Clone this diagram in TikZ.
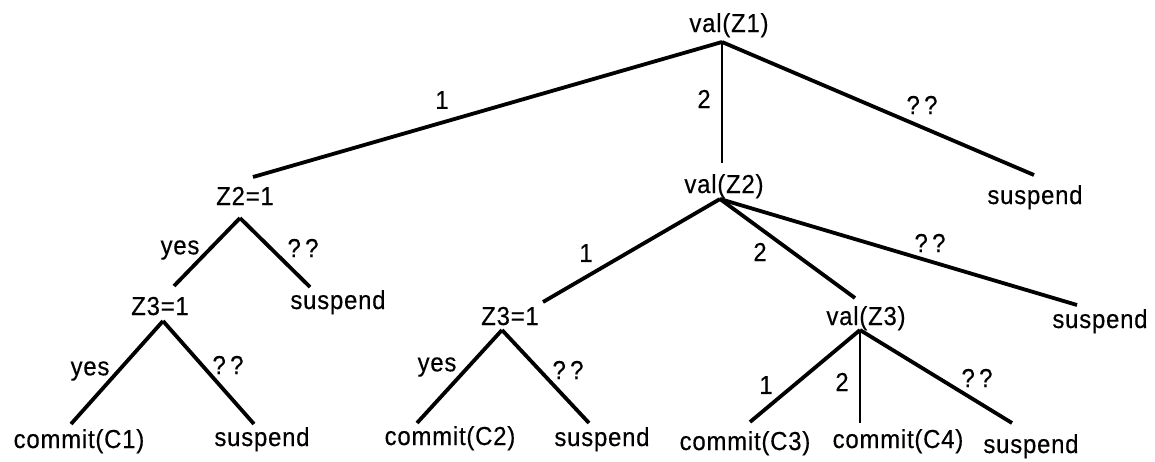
\documentclass[tikz,border=0pt]{standalone}
\usepackage{fontspec}
\setmainfont[LetterSpace=3,FakeStretch=0.92,FakeBold=0.4]{Liberation Sans}
\begin{document}
\begin{tikzpicture}[x=1pt,y=-1pt,
  lbl/.style={font=\fontsize{26}{29}\selectfont, inner sep=0pt, anchor=base},
  tag/.style={font=\fontsize{26}{29}\selectfont, inner sep=0pt},
  edge/.style={line width=3.8pt},
  thinedge/.style={line width=1.8pt}]
\useasboundingbox (0,0) rectangle (1155,461);

% tree nodes (placed on their baselines)
\node[lbl] (z1)  at (729,32)  {val(Z1)};
\node[lbl] (z2)  at (245,205) {Z2=1};
\node[lbl] (v2)  at (724,193) {val(Z2)};
\node[lbl] (s1)  at (1035,204) {suspend};
\node[lbl] (z3a) at (160,315) {Z3=1};
\node[lbl] (s2)  at (338,309) {suspend};
\node[lbl] (z3b) at (510,325) {Z3=1};
\node[lbl] (v3)  at (866,325) {val(Z3)};
\node[lbl] (s3)  at (1100,328) {suspend};
\node[lbl] (c1)  at (79,448)  {commit(C1)};
\node[lbl] (s4)  at (262,446) {suspend};
\node[lbl] (c2)  at (450,445) {commit(C2)};
\node[lbl] (s5)  at (602,446) {suspend};
\node[lbl] (c3)  at (745,450) {commit(C3)};
\node[lbl] (c4)  at (898,448) {commit(C4)};
\node[lbl] (s6)  at (1031,453) {suspend};

% branches of val(Z1)
\draw[edge]     ([shift={(-7,10)}]z1.base) -- ([shift={(8,-28)}]z2.base);
\draw[thinedge] ([shift={(-7,10)}]z1.base) -- ([shift={(-2,-30)}]v2.base);
\draw[edge]     ([shift={(-7,10)}]z1.base) -- ([shift={(-1,-29)}]s1.base);
% branches of Z2=1
\draw[edge] ([shift={(-5,13)}]z2.base) -- ([shift={(14,-29)}]z3a.base);
\draw[edge] ([shift={(-5,13)}]z2.base) -- ([shift={(-28,-22)}]s2.base);
% branches of the left Z3=1
\draw[edge] ([shift={(3,6)}]z3a.base) -- ([shift={(-8,-24)}]c1.base);
\draw[edge] ([shift={(3,6)}]z3a.base) -- ([shift={(-8,-22)}]s4.base);
% branches of val(Z2)
\draw[edge] ([shift={(-4,6)}]v2.base) -- ([shift={(33,-23)}]z3b.base);
\draw[edge] ([shift={(-4,6)}]v2.base) -- ([shift={(-11,-27)}]v3.base);
\draw[edge] ([shift={(-4,6)}]v2.base) -- ([shift={(-23,-23)}]s3.base);
% branches of the middle Z3=1
\draw[edge] ([shift={(-8,5)}]z3b.base) -- ([shift={(-33,-22)}]c2.base);
\draw[edge] ([shift={(-8,5)}]z3b.base) -- ([shift={(-13,-23)}]s5.base);
% branches of val(Z3)
\draw[edge]     ([shift={(-6,5)}]v3.base) -- ([shift={(5,-28)}]c3.base);
\draw[thinedge] ([shift={(-6,5)}]v3.base) -- ([shift={(-38,-25)}]c4.base);
\draw[edge]     ([shift={(-6,5)}]v3.base) -- ([shift={(-19,-30)}]s6.base);

% branch labels
\node[tag] (l1)  at (442,100) {1};
\node[tag] (l2)  at (704,99)  {2};
\node[tag] (l3)  at (922,105) {?\,?};
\node[tag] (l4)  at (180,250) {yes};
\node[tag] (l5)  at (303,248) {?\,?};
\node[tag] (l6)  at (90,371)  {yes};
\node[tag] (l7)  at (228,365) {?\,?};
\node[tag] (l8)  at (586,253) {1};
\node[tag] (l9)  at (760,252) {2};
\node[tag] (l10) at (930,243) {?\,?};
\node[tag] (l11) at (437,367) {yes};
\node[tag] (l12) at (568,370) {?\,?};
\node[tag] (l13) at (766,385) {1};
\node[tag] (l14) at (842,382) {2};
\node[tag] (l15) at (977,378) {?\,?};
\end{tikzpicture}
\end{document}
